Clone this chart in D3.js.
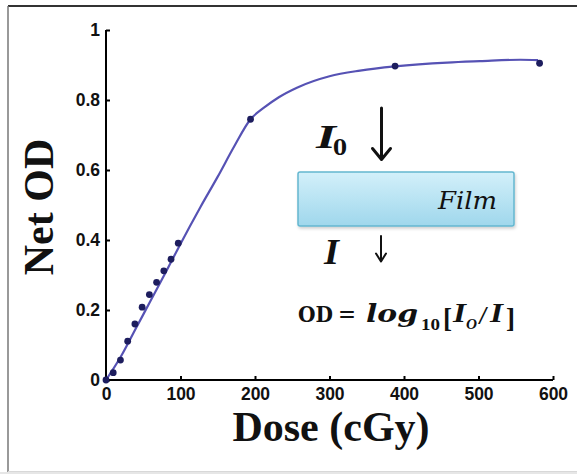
<!DOCTYPE html>
<html><head><meta charset="utf-8">
<script src="https://cdn.jsdelivr.net/npm/d3@7"></script>
<style>body{margin:0;background:#fff}svg{display:block}</style>
</head><body>
<svg id="c" width="577" height="474"></svg>
<script>
// measured points
const doses = [0, 9.7, 19.4, 29.1, 38.8, 48.5, 58.2, 67.9, 77.6, 87.3, 97, 194, 388, 582];
const netOD = [0, 0.021, 0.057, 0.111, 0.160, 0.208, 0.244, 0.279, 0.312, 0.345, 0.391, 0.745, 0.897, 0.905];
// fitted curve
const fitDose = [0, 20, 40, 60, 80, 97.8, 127, 150, 172, 194, 212, 232, 257, 300, 341, 388, 458, 502, 556, 580];
const fitOD = [0, 0.067, 0.147, 0.227, 0.307, 0.38, 0.495, 0.581, 0.667, 0.745, 0.778, 0.808, 0.836, 0.868, 0.884, 0.896, 0.907, 0.911, 0.915, 0.914];
const xTicks = [0, 100, 200, 300, 400, 500, 600];
const yTicks = [0, 0.2, 0.4, 0.6, 0.8, 1];
const yTickLabels = ["0", "0.2", "0.4", "0.6", "0.8", "1"];

const svg = d3.select("#c");
// frame
svg.append("rect").attr("x",0).attr("y",0).attr("width",577).attr("height",474).attr("fill","#fff");
svg.append("rect").attr("x",0).attr("y",472).attr("width",577).attr("height",2).attr("fill","#e6e6e6");
svg.append("line").attr("x1",8).attr("x2",577).attr("y1",6).attr("y2",6).attr("stroke","#333").attr("stroke-width",2);
svg.append("line").attr("x1",8).attr("x2",8).attr("y1",6).attr("y2",472).attr("stroke","#777").attr("stroke-width",1.5);
svg.append("line").attr("x1",8).attr("x2",577).attr("y1",471.5).attr("y2",471.5).attr("stroke","#d8d8d8").attr("stroke-width",1);

const x = d3.scaleLinear().domain([0,600]).range([106,553]);
const y = d3.scaleLinear().domain([0,1]).range([380,30]);

const gx = svg.append("g").attr("transform","translate(0,380)")
  .call(d3.axisBottom(x).tickValues(xTicks).tickSize(-4).tickPadding(8).tickFormat(d3.format("d")));
const gy = svg.append("g").attr("transform","translate(106,0)")
  .call(d3.axisLeft(y).tickValues(yTicks).tickSize(-4).tickPadding(6).tickFormat((d,i)=>yTickLabels[i]));
[gx,gy].forEach(g=>{
  g.select(".domain").attr("stroke","#000").attr("stroke-width",2);
  g.selectAll(".tick line").attr("stroke","#000").attr("stroke-width",2);
  g.selectAll(".tick text").attr("fill","#111").style("font-family","'Liberation Sans',Arial,sans-serif")
   .style("font-weight","bold").style("font-size","17.5px");
});
gx.select(".domain").attr("d","M106,0H553");
gy.select(".domain").attr("d","M0,380V30");
gx.selectAll(".tick text").attr("dy","0.71em");

// fitted line
const line = d3.line().x(d=>x(d[0])).y(d=>y(d[1])).curve(d3.curveMonotoneX);
svg.append("path").datum(fitDose.map((d,i)=>[d,fitOD[i]]))
  .attr("d",line).attr("fill","none").attr("stroke","#5652b4").attr("stroke-width",2.2);
// dots
svg.append("g").selectAll("circle").data(doses.map((d,i)=>[d,netOD[i]])).join("circle")
  .attr("cx",d=>x(d[0])).attr("cy",d=>y(d[1])).attr("r",3.4).attr("fill","#1d1d5e");

// axis titles
svg.append("text").attr("x",331).attr("y",441).attr("text-anchor","middle")
  .style("font-family","'Liberation Serif','Times New Roman',serif").style("font-weight","bold").style("font-size","42px")
  .attr("fill","#111").text("Dose (cGy)");
svg.append("text").attr("transform","translate(53,207) rotate(-90)").attr("text-anchor","middle")
  .style("font-family","'Liberation Serif','Times New Roman',serif").style("font-weight","bold").style("font-size","42px")
  .attr("fill","#111").text("Net OD");

// inset diagram
const defs = svg.append("defs");
const grad = defs.append("linearGradient").attr("id","film").attr("x1",0).attr("x2",0).attr("y1",0).attr("y2",1);
grad.append("stop").attr("offset","0%").attr("stop-color","#d3f0fa");
grad.append("stop").attr("offset","100%").attr("stop-color","#9fd7ec");
const filt = defs.append("filter").attr("id","sh").attr("x","-10%").attr("y","-20%").attr("width","130%").attr("height","160%");
filt.append("feDropShadow").attr("dx",1).attr("dy",2).attr("stdDeviation",1.5).attr("flood-color","#000").attr("flood-opacity",0.18);
svg.append("rect").attr("x",298).attr("y",172).attr("width",216).attr("height",54).attr("rx",2)
  .attr("fill","url(#film)").attr("stroke","#64b7d0").attr("stroke-width",1.5).attr("filter","url(#sh)");
const serif = "'DejaVu Serif','Liberation Serif',serif";
const lserif = "'Liberation Serif','Times New Roman',serif";
svg.append("text").attr("x",438).attr("y",209).attr("textLength",59).attr("lengthAdjust","spacingAndGlyphs")
  .style("font-family",serif).style("font-style","italic").style("font-size","24px").attr("fill","#111").text("Film");

function t(xp, yp, str, size, opts={}) {
  const el = svg.append("text").attr("x",xp).attr("y",yp).attr("fill","#111")
    .style("font-family", opts.family || serif).style("font-size", size+"px")
    .style("font-weight", opts.weight || "bold").style("font-style", opts.style || "normal").text(str);
  if (opts.len) el.attr("textLength",opts.len).attr("lengthAdjust", opts.adj || "spacingAndGlyphs");
  return el;
}
// I0
t(316, 148, "I", 34, {style:"italic", len:20, family:lserif});
t(333, 155, "0", 22, {len:14});
// I
t(324, 264, "I", 35, {style:"italic", len:15, family:lserif});
// arrows
const arr = svg.append("g").attr("stroke","#111").attr("fill","none").attr("stroke-linecap","round").attr("stroke-linejoin","round");
arr.append("path").attr("d","M381.5,108V159 M372.5,148.5L381.5,159.5L390.5,148.5").attr("stroke-width",3);
arr.append("path").attr("d","M381,236V261 M376,253.5L381,261.5L386,253.5").attr("stroke-width",2);

// equation
t(298, 322, "OD", 23, {len:35});
t(338, 322, "=", 24, {len:18, weight:"normal"});
t(366, 322, "log", 25, {style:"italic", len:52});
t(421, 330, "10", 16, {len:19, family:lserif});
t(443, 327, "[", 28, {len:9, family:lserif});
t(453, 322, "I", 27, {style:"italic", len:13, family:lserif});
t(466, 329, "O", 15, {style:"italic", len:11, family:lserif});
t(478, 324, "/", 25, {len:10, weight:"normal", family:lserif});
t(490, 322, "I", 27, {style:"italic", len:13, family:lserif});
t(506, 327, "]", 28, {len:9, family:lserif});
</script>
</body></html>
